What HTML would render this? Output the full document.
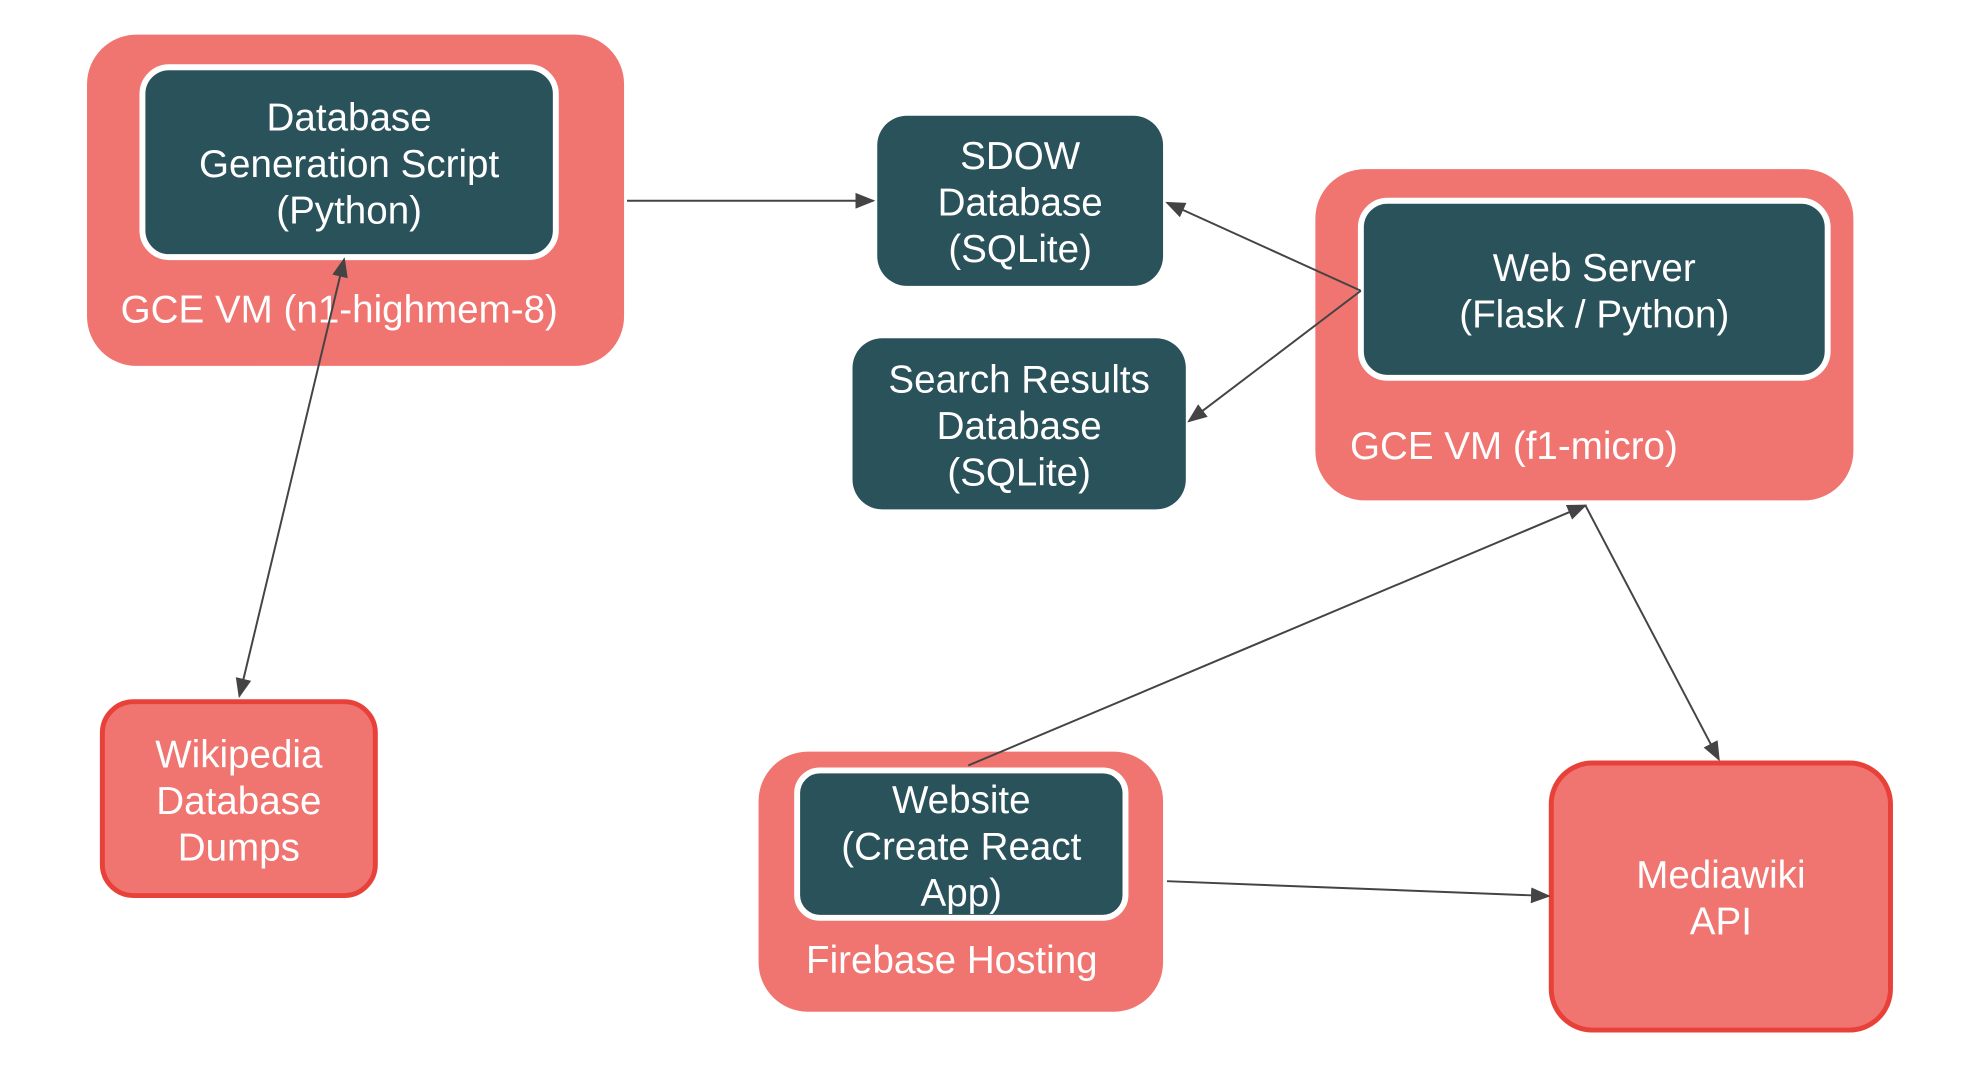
<!DOCTYPE html>
<html><head><meta charset="utf-8"><style>
body{margin:0;width:1964px;height:1082px;background:#fff;position:relative;overflow:hidden;font-family:"Liberation Sans",sans-serif;}
#w{position:absolute;left:0;top:0;width:1964px;height:1082px;transform:scale(0.989);transform-origin:0 0;}
.b{position:absolute;box-sizing:border-box;color:#fff;display:flex;align-items:center;justify-content:center;text-align:center;font-size:39px;line-height:47px;white-space:nowrap;padding-top:5px;}
.s{background:#f07470;border-radius:50px;}
.d{background:#2a525a;border-radius:30px;}
.w{border:6px solid #fff;}
.r{border:5px solid #e8413a;background:#f07470;border-radius:34px;}
.t{position:absolute;color:#fff;font-size:39px;white-space:nowrap;}
svg{position:absolute;left:0;top:0}
</style></head><body><div id="w">
<div class="b s" style="left:88px;top:35px;width:543px;height:335px"></div>
<div class="b d w" style="left:141px;top:65px;width:424px;height:198px">Database<br>Generation Script<br>(Python)</div>
<div class="t" style="left:122px;top:292px">GCE VM (n1-highmem-8)</div>

<div class="b d" style="left:887px;top:117px;width:289px;height:172px">SDOW<br>Database<br>(SQLite)</div>
<div class="b d" style="left:862px;top:342px;width:337px;height:173px">Search Results<br>Database<br>(SQLite)</div>

<div class="b s" style="left:1330px;top:171px;width:544px;height:335px"></div>
<div class="b d w" style="left:1373px;top:200px;width:478px;height:185px">Web Server<br>(Flask / Python)</div>
<div class="t" style="left:1365px;top:430px">GCE VM (f1-micro)</div>

<div class="b r" style="left:101px;top:707px;width:281px;height:201px">Wikipedia<br>Database<br>Dumps</div>

<div class="b s" style="left:767px;top:760px;width:409px;height:263px"></div>
<div class="b d w" style="left:803px;top:776px;width:338px;height:155px;border-radius:26px">Website<br>(Create React<br>App)</div>
<div class="t" style="left:815px;top:950px">Firebase Hosting</div>

<div class="b r" style="left:1566px;top:769px;width:348px;height:275px;border-width:5px;border-radius:44px">Mediawiki<br>API</div>

<svg width="1964" height="1082">
<defs>
<marker id="m" markerWidth="20" markerHeight="16" refX="18" refY="8" orient="auto-start-reverse" markerUnits="userSpaceOnUse" viewBox="0 0 20 16"><path d="M0,0L20,8L0,16z" fill="#444"/></marker></defs>
<g stroke="#444" stroke-width="2" fill="none">
<line x1="634" y1="203" x2="883" y2="203" marker-end="url(#m)"/>
<line x1="1376" y1="294" x2="1180" y2="205" marker-end="url(#m)"/>
<line x1="1376" y1="294" x2="1202" y2="426" marker-end="url(#m)"/>
<line x1="348" y1="262" x2="242" y2="704" marker-start="url(#m)" marker-end="url(#m)"/>
<line x1="979" y1="774" x2="1603" y2="511" marker-end="url(#m)"/>
<line x1="1603" y1="511" x2="1738" y2="768" marker-end="url(#m)"/>
<line x1="1180" y1="891" x2="1566" y2="906" marker-end="url(#m)"/>
</g></svg>
</div></body></html>
